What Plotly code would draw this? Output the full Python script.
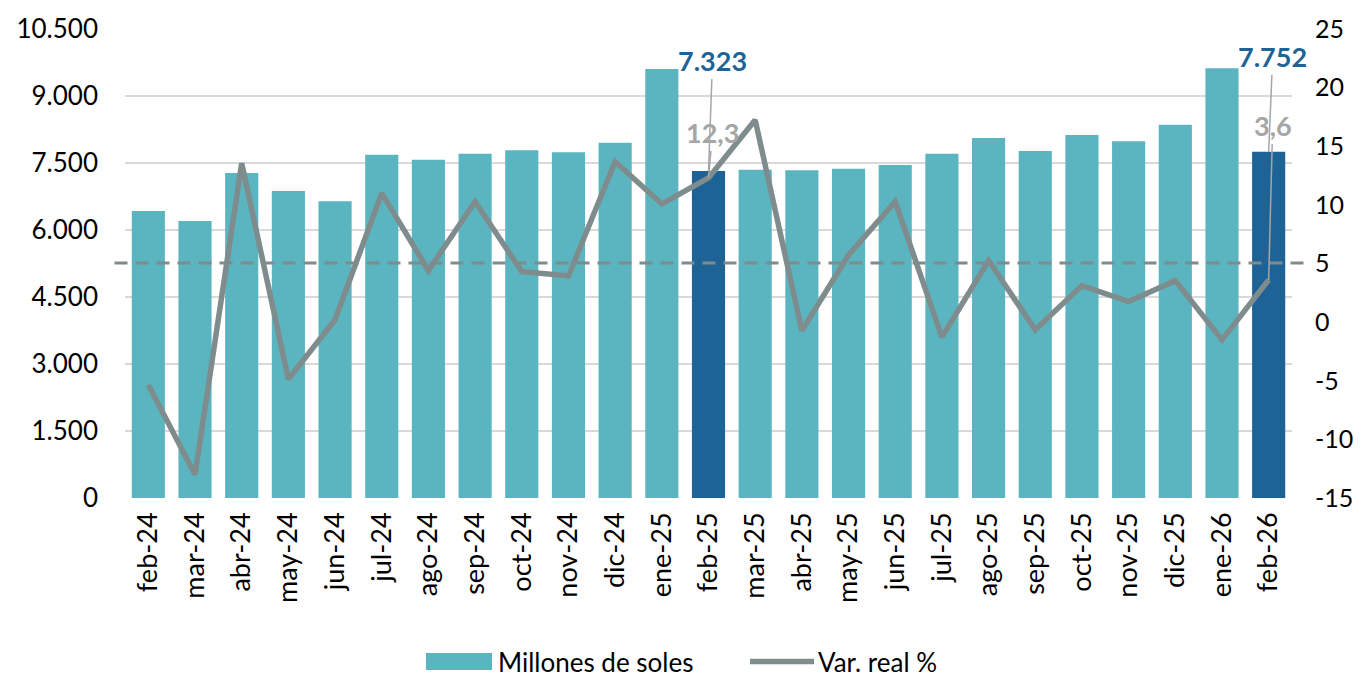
import plotly.graph_objects as go

months = ["feb-24", "mar-24", "abr-24", "may-24", "jun-24", "jul-24", "ago-24", "sep-24",
          "oct-24", "nov-24", "dic-24", "ene-25", "feb-25", "mar-25", "abr-25", "may-25",
          "jun-25", "jul-25", "ago-25", "sep-25", "oct-25", "nov-25", "dic-25", "ene-26", "feb-26"]

millones = [6426, 6202, 7277, 6874, 6641, 7687, 7575, 7709, 7783, 7738, 7955, 9605,
            7323, 7351, 7336, 7373, 7456, 7709, 8060, 7769, 8128, 7985, 8358, 9620, 7752]

var_real = [-5.35, -13.0, 13.55, -4.86, 0.2, 11.0, 4.4, 10.28, 4.31, 3.94, 13.69, 10.08,
            12.3, 17.24, -0.72, 5.73, 10.28, -1.28, 5.25, -0.66, 3.12, 1.75, 3.54, -1.51, 3.6]

highlight = ["feb-25", "feb-26"]
ref_level = 5.05

left_ticks = [0, 1500, 3000, 4500, 6000, 7500, 9000, 10500]
right_ticks = [-15, -10, -5, 0, 5, 10, 15, 20, 25]
right_labels = [str(v) for v in right_ticks]

TEAL = "#5BB5C1"
DARK = "#1E6395"
GRAY_LINE = "#7E8C8D"
LABEL_GRAY = "#A6A6A6"
FONT = "Lato"

bar_colors = [DARK if m in highlight else TEAL for m in months]

fig = go.Figure()
fig.add_trace(go.Bar(x=months, y=millones, name="Millones de soles",
                     marker=dict(color=bar_colors, line=dict(width=0)),
                     yaxis="y", showlegend=False))
fig.add_trace(go.Scatter(x=months, y=var_real, name="Var. real %", mode="lines",
                         line=dict(color=GRAY_LINE, width=5.5), yaxis="y2", showlegend=False))

fig.add_shape(type="line", xref="paper", x0=-0.009, x1=1.01, yref="y2",
              y0=ref_level, y1=ref_level,
              line=dict(color=GRAY_LINE, width=3, dash="13px,8px"), layer="above")

for m in highlight:
    i = months.index(m)
    fig.add_annotation(x=m, y=millones[i], yref="y", text=f"<b>{millones[i]:,}</b>".replace(",", "."),
                       showarrow=True, arrowhead=0, arrowwidth=1.5, arrowcolor=LABEL_GRAY,
                       ax=4, ay=-110 if m == "feb-25" else -95,
                       font=dict(family=FONT, size=27, color=DARK))
    fig.add_annotation(x=m, y=var_real[i], yref="y2", text=f"<b>{var_real[i]}</b>".replace(".", ","),
                       showarrow=True, arrowhead=0, arrowwidth=1.5, arrowcolor=LABEL_GRAY,
                       ax=4, ay=-45 if m == "feb-25" else -154,
                       font=dict(family=FONT, size=27, color=LABEL_GRAY))

# manual legend (wide swatches like the original)
leg_y = -0.3488
fig.add_shape(type="rect", xref="paper", yref="paper", x0=0.2579, x1=0.3145,
              y0=leg_y - 0.0181, y1=leg_y + 0.0181, fillcolor=TEAL, line=dict(width=0))
fig.add_annotation(xref="paper", yref="paper", x=0.3188, y=leg_y, xanchor="left", yanchor="middle",
                   text="Millones de soles", showarrow=False, borderpad=0,
                   font=dict(family=FONT, size=26))
fig.add_shape(type="line", xref="paper", yref="paper", x0=0.5356, x1=0.5904,
              y0=leg_y, y1=leg_y, line=dict(color=GRAY_LINE, width=5.5))
fig.add_annotation(xref="paper", yref="paper", x=0.5930, y=leg_y, xanchor="left", yanchor="middle",
                   text="Var. real %", showarrow=False, borderpad=0,
                   font=dict(family=FONT, size=26))

# the page body adds an 8px margin, so the figure is offset by 8px inside the window
fig.update_layout(
    width=1355, height=671,
    margin=dict(l=117, r=71, t=21, b=181, autoexpand=False),
    plot_bgcolor="white", paper_bgcolor="white",
    separators=",.",
    bargap=0.29,
    font=dict(family=FONT, size=24, color="#000000"),
    showlegend=False,
    xaxis=dict(type="category", range=[-0.5, len(months) - 0.5], tickangle=-90,
               showgrid=False, showline=False,
               ticks="", tickfont=dict(family=FONT, size=27), ticklabelstandoff=8,
               automargin=False),
    yaxis=dict(range=[0, 10500], tickvals=left_ticks, tickformat=",d",
               showgrid=True, gridcolor="#D9D9D9", gridwidth=2, zeroline=False,
               showline=False, ticks="", ticklabelstandoff=26, automargin=False,
               tickfont=dict(family=FONT, size=26)),
    yaxis2=dict(range=[-15, 25], tickvals=right_ticks, ticktext=right_labels,
                overlaying="y", side="right",
                showgrid=False, zeroline=False, showline=False, ticks="",
                ticklabelstandoff=22, automargin=False,
                tickfont=dict(family=FONT, size=25)),
)

fig.write_html("out.html")
